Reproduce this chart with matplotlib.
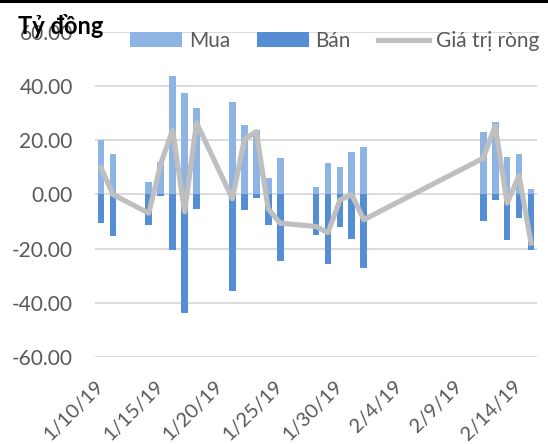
import pandas as pd
import matplotlib
matplotlib.use("Agg")
import matplotlib.pyplot as plt
from matplotlib.lines import Line2D

dates = ["2019-01-10", "2019-01-11", "2019-01-14", "2019-01-15", "2019-01-16",
         "2019-01-17", "2019-01-18", "2019-01-21", "2019-01-22", "2019-01-23",
         "2019-01-24", "2019-01-25", "2019-01-28", "2019-01-29", "2019-01-30",
         "2019-01-31", "2019-02-01", "2019-02-11", "2019-02-12", "2019-02-13",
         "2019-02-14", "2019-02-15"]
mua = [20.3, 15.0, 4.5, 11.9, 43.8, 37.5, 31.8, 34.0, 25.7, 23.8, 6.0,
       13.4, 2.9, 11.5, 10.1, 15.8, 17.4, 23.2, 26.9, 14.0, 15.0, 2.1]
ban = [-10.7, -15.4, -11.2, -0.7, -20.6, -43.9, -5.3, -35.6, -5.9, -1.3, -11.4,
       -24.6, -15.1, -25.5, -12.0, -16.6, -27.0, -9.9, -2.2, -16.9, -8.7, -20.4]
rong = [10.0, 0.0, -6.9, 11.3, 23.8, -6.4, 26.5, -1.6, 20.3, 23.2, -5.3,
        -10.6, -11.8, -14.1, -2.0, -0.1, -9.3, 13.4, 25.4, -3.2, 7.0, -17.9]
yticks = [-60, -40, -20, 0, 20, 40, 60]

x = pd.to_datetime(dates)
gray_txt = "#595959"
plt.rcParams['font.family'] = ['Lato', 'DejaVu Sans']

fig = plt.figure(figsize=(5.48, 4.44), dpi=100)
ax = fig.add_axes([95/548, 87/444, 442/548, 325/444])

b1 = ax.bar(x, mua, width=0.56, color="#8DB4E2", label="Mua", zorder=2)
b2 = ax.bar(x, ban, width=0.56, color="#558ED5", label="Bán", zorder=2)
ln, = ax.plot(x, rong, color="#BFBFBF", lw=3.7, solid_joinstyle="round",
              label="Giá trị ròng", zorder=3)

ax.set_ylim(-60, 60)
ax.set_yticks(yticks)
ax.set_yticklabels([f"{v:.2f}" for v in yticks])
ax.set_xlim(pd.Timestamp("2019-01-09 12:00"), pd.Timestamp("2019-02-15 12:00"))
ticks = pd.date_range("2019-01-10", "2019-02-14", freq="5D")
ax.set_xticks(ticks)
ax.set_xticklabels([f"{d.month}/{d.day}/{d:%y}" for d in ticks],
                   rotation=45, ha="right", va="center", rotation_mode="anchor")
ax.grid(axis="y", color="#D9D9D9", lw=1.3, zorder=0)
ax.tick_params(length=0, labelsize=15, colors=gray_txt)
ax.tick_params(axis="x", labelsize=14.5, pad=19)
ax.tick_params(axis="y", pad=16)
for s in ax.spines.values():
    s.set_visible(False)

fig.legend([b1, b2, ln], ["Mua", "Bán", "Giá trị ròng"],
           loc="center left", bbox_to_anchor=(122/548, 1 - 41/444), ncol=3,
           frameon=False, fontsize=15, labelcolor=gray_txt,
           handlelength=2.48, handleheight=0.7, handletextpad=0.33,
           columnspacing=1.29, borderaxespad=0)

fig.text(18/548, 1 - 34/444, "Tỷ đồng", fontsize=17, fontweight="bold",
         color="black", va="baseline", ha="left")
fig.add_artist(Line2D([0, 1], [0.997, 0.997], color="black", lw=2.2,
                      transform=fig.transFigure))

fig.savefig("out.png", dpi=100)
